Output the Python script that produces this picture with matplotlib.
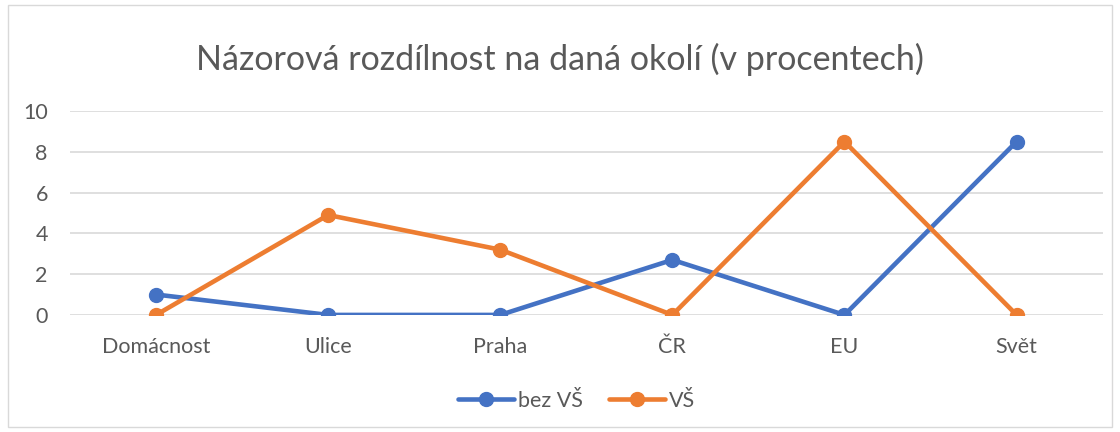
import matplotlib
matplotlib.use("Agg")
import matplotlib.pyplot as plt
from matplotlib.patches import Rectangle

categories = ["Domácnost", "Ulice", "Praha", "ČR", "EU", "Svět"]
bez_vs = [1.0, 0.0, 0.0, 2.7, 0.0, 8.5]
vs = [0.0, 4.9, 3.2, 0.0, 8.5, 0.0]
yticks = [0, 2, 4, 6, 8, 10]
title = "Názorová rozdílnost na daná okolí (v procentech)"

plt.rcParams['font.family'] = ['Lato', 'DejaVu Sans']

fig = plt.figure(figsize=(11.2, 4.32), dpi=100)
fig.patches.append(Rectangle((0.007, 0.012), 0.986, 0.976, transform=fig.transFigure,
                             fill=False, edgecolor='#D9D9D9', linewidth=1))
ax = fig.add_axes([0.0625, 0.271, 0.922, 0.472])

x = list(range(len(categories)))
ax.plot(x, bez_vs, color='#4472C4', linewidth=3.3, marker='o', markersize=10,
        label='bez VŠ', solid_capstyle='round', zorder=3)
ax.plot(x, vs, color='#ED7D31', linewidth=3.3, marker='o', markersize=10,
        label='VŠ', solid_capstyle='round', zorder=3)

ax.set_xlim(-0.5, len(categories) - 0.5)
ax.set_ylim(0, 10)
ax.set_yticks(yticks)
ax.set_xticks(x)
ax.set_xticklabels(categories)
ax.grid(axis='y', color='#D9D9D9', linewidth=1.2)
ax.set_axisbelow(True)
for s in ax.spines.values():
    s.set_visible(False)
ax.tick_params(axis='both', length=0, labelsize=15.5, labelcolor='#595959')
ax.tick_params(axis='y', pad=16)
ax.tick_params(axis='x', pad=16)
for lbl in ax.get_yticklabels():
    lbl.set_horizontalalignment('right')

fig.text(0.5, 0.862, title, ha='center', va='center', fontsize=24.5, color='#595959')

leg = fig.legend(loc='center', bbox_to_anchor=(0.515, 0.072), ncol=2, frameon=False,
                 fontsize=15.5, handlelength=2.6, columnspacing=1.2, handletextpad=0.2)
for t in leg.get_texts():
    t.set_color('#595959')

fig.savefig("out.png", dpi=100)
